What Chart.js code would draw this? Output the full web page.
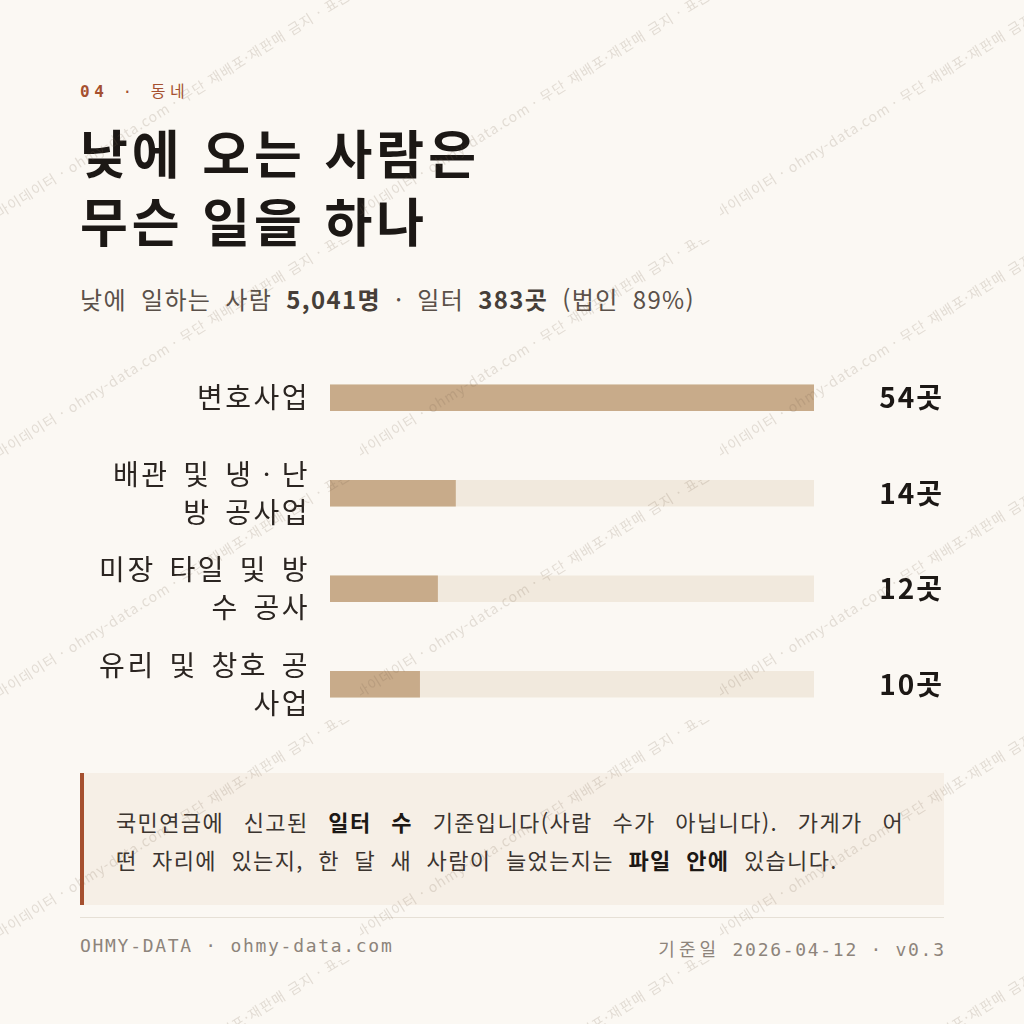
<!DOCTYPE html>
<html lang="ko">
<head>
<meta charset="utf-8">
<script src="https://cdn.jsdelivr.net/npm/chart.js@4.4.1/dist/chart.umd.min.js"></script>
<style>
  html, body { margin: 0; padding: 0; }
  body {
    width: 1024px; height: 1024px; position: relative; overflow: hidden;
    background: #fbf8f3;
    font-family: "Noto Sans CJK KR", sans-serif;
    letter-spacing: 0.085em;
    color: #1f1a17;
  }
  .mono { font-family: "DejaVu Sans Mono", "Noto Sans CJK KR", monospace; }
  .kicker {
    position: absolute; left: 80px; top: 78px;
    font-size: 16px; letter-spacing: 4.5px; color: #a5502f;
  }
  .kicker b { font-weight: 700; }
  h1 {
    position: absolute; left: 80px; top: 118px; margin: 0;
    font-size: 52px; line-height: 68px; font-weight: 700; letter-spacing: 4px;
    color: #1c1815;
  }
  .sub {
    position: absolute; left: 80px; top: 281px;
    font-size: 24px; word-spacing: 6px; color: #5a5049;
  }
  .sub b { color: #463e38; }
  .chart-box { position: absolute; left: 80px; top: 350px; width: 864px; height: 382px; }
  .note {
    position: absolute; left: 80px; top: 773px; width: 864px; height: 132px;
    box-sizing: border-box; background: #f6efe6; border-left: 4px solid #a5502f;
    padding: 29px 40px 0 32px; font-size: 22px; line-height: 38px;
    word-spacing: 7px; color: #3b342f;
  }
  .note .l1 { display: block; text-align: justify; text-align-last: justify; }
  .note b { color: #1c1815; }
  .rule { position: absolute; left: 80px; top: 917px; width: 864px; height: 1px; background: #e6e0d6; }
  .foot {
    position: absolute; top: 935px;
    font-size: 18px; letter-spacing: 1.7px; color: #8d847b;
  }
  .foot.left { left: 80px; }
  .foot.right { right: 80px; margin-right: -1.7px; }
  .foot .ko { letter-spacing: 4px; }
  .wm { position: absolute; left: 0; top: 0; width: 1024px; height: 1024px; pointer-events: none; }
  .wm div { position: absolute; width: 360px; height: 240px; overflow: hidden; }
  .wm span {
    position: absolute; left: 1px; top: 204px; white-space: nowrap;
    font-size: 14px; line-height: 17px; letter-spacing: 1.1px; color: rgba(120, 100, 80, 0.19);
    transform: rotate(-32deg); transform-origin: 0 100%;
  }
</style>
</head>
<body>
<div class="kicker mono"><b>04</b> · 동네</div>
<h1>낮에 오는 사람은<br>무슨 일을 하나</h1>
<div class="sub">낮에 일하는 사람 <b>5,041명</b> · 일터 <b>383곳</b> (법인 89%)</div>
<div class="chart-box"><canvas id="bars"></canvas></div>
<div class="note"><span class="l1">국민연금에 신고된 <b>일터 수</b> 기준입니다(사람 수가 아닙니다). 가게가 어</span>떤 자리에 있는지, 한 달 새 사람이 늘었는지는 <b>파일 안에</b> 있습니다.</div>
<div class="rule"></div>
<div class="foot left mono">OHMY-DATA · ohmy-data.com</div>
<div class="foot right mono"><span class="ko">기준일</span> 2026-04-12 · v0.3</div>
<div class="wm" id="wm"></div>
<script>
const categories = ["변호사업", "배관 및 냉ㆍ난방 공사업", "미장 타일 및 방수 공사", "유리 및 창호 공사업"];
const counts = [54, 14, 12, 10];
const unit = "곳";

const fontFamily = "'Noto Sans CJK KR', sans-serif";
const labelFont = "28px " + fontFamily;
const labelSpacing = "2.5px";
const labelWordSpacing = "5px";
const maxCount = Math.max(...counts);

// wrap labels by character, like the browser does for Korean text
function wrapLabel(text, maxWidth) {
  const ctx = document.createElement("canvas").getContext("2d");
  ctx.font = labelFont;
  ctx.letterSpacing = labelSpacing;
  ctx.wordSpacing = labelWordSpacing;
  const lines = [];
  let line = "";
  for (const ch of text) {
    const test = line + ch;
    if (line && ctx.measureText(test.trimEnd()).width > maxWidth) {
      lines.push(line.trimEnd());
      line = ch === " " ? "" : ch;
    } else {
      line = test;
    }
  }
  lines.push(line);
  return lines.length > 1 ? lines : lines[0];
}

const spacing = {
  id: "spacing",
  beforeDraw(chart) {
    chart.ctx.letterSpacing = labelSpacing;
    chart.ctx.wordSpacing = labelWordSpacing;
  }
};

const valueLabels = {
  id: "valueLabels",
  afterDatasetsDraw(chart) {
    const ctx = chart.ctx;
    const meta = chart.getDatasetMeta(0);
    ctx.save();
    ctx.font = "700 28px " + fontFamily;
    ctx.letterSpacing = "2px";
    ctx.fillStyle = "#1c1815";
    ctx.textAlign = "right";
    ctx.textBaseline = "middle";
    meta.data.forEach((bar, i) => {
      ctx.fillText(counts[i] + unit, chart.width, bar.y);
    });
    ctx.restore();
  }
};

new Chart("bars", {
  type: "bar",
  data: {
    labels: categories.map(c => wrapLabel(c, 216)),
    datasets: [
      {
        data: counts,
        backgroundColor: "#c8ab8a",
        barThickness: 26,
        grouped: false,
        order: 0
      },
      {
        data: counts.map(() => maxCount),
        backgroundColor: "#f1e9dd",
        barThickness: 26,
        grouped: false,
        order: 1
      }
    ]
  },
  options: {
    indexAxis: "y",
    responsive: true,
    maintainAspectRatio: false,
    animation: false,
    layout: { padding: { left: 0, right: 130, top: 0, bottom: 0 } },
    plugins: { legend: { display: false }, tooltip: { enabled: false } },
    scales: {
      x: { min: 0, max: maxCount, display: false },
      y: {
        grid: { display: false, drawTicks: false },
        border: { display: false },
        ticks: {
          color: "#2b2521",
          padding: 20,
          font: { family: fontFamily, size: 28, lineHeight: 1.36 }
        },
        afterFit(scale) {
          scale.width = 250;
          scale.paddingTop = 0;
          scale.paddingBottom = 0;
        }
      }
    }
  },
  plugins: [spacing, valueLabels]
});

// watermark tiles
const wmText = "마이데이터 · ohmy-data.com · 무단 재배포·재판매 금지 · 표본";
const wm = document.getElementById("wm");
for (let ty = 0; ty < 1024; ty += 240) {
  for (let tx = 0; tx < 1024; tx += 360) {
    const tile = document.createElement("div");
    tile.style.left = tx + "px";
    tile.style.top = ty + "px";
    const s = document.createElement("span");
    s.textContent = wmText;
    tile.appendChild(s);
    wm.appendChild(tile);
  }
}
</script>
</body>
</html>
